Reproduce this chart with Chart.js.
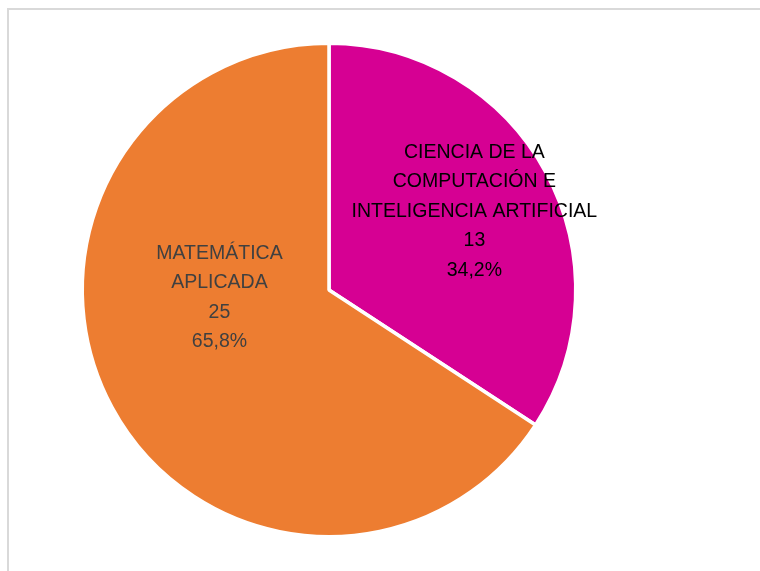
<!DOCTYPE html>
<html>
<head>
<meta charset="utf-8">
<script src="https://cdn.jsdelivr.net/npm/chart.js@4/dist/chart.umd.min.js"></script>
<style>
  html, body { margin: 0; padding: 0; background: #fff; overflow: hidden; }
  #wrap { position: relative; width: 760px; height: 571px; }
  #frame { position: absolute; left: 7px; top: 8px; width: 800px; height: 600px; border: 2px solid #d9d9d9; box-sizing: border-box; }
  canvas { position: absolute; left: 0; top: 0; }
</style>
</head>
<body>
<div id="wrap">
  <div id="frame"></div>
  <canvas id="pie" width="760" height="571"></canvas>
</div>
<script>
// datos
const categories = [
  ["CIENCIA DE LA", "COMPUTACIÓN E", "INTELIGENCIA ARTIFICIAL"],
  ["MATEMÁTICA", "APLICADA"]
];
const values = [13, 25];
const sliceColors = ["#d60093", "#ed7d31"];
const labelColors = ["#000000", "#404040"];

// posicion de etiquetas (fraccion del radio y giro en grados)
const labelRadius = [0.67, 0.445];
const labelTurn = [0, 24.4];

function formatPercent(v, total) {
  return (v / total * 100).toFixed(1).replace(".", ",") + "%";
}

const sliceLabels = {
  id: "sliceLabels",
  afterDatasetsDraw(chart) {
    const ctx = chart.ctx;
    const meta = chart.getDatasetMeta(0);
    const total = values.reduce((a, b) => a + b, 0);
    ctx.save();
    ctx.font = "19.5px 'Liberation Sans', Arial, sans-serif";
    ctx.textAlign = "center";
    ctx.textBaseline = "middle";
    meta.data.forEach((arc, i) => {
      const p = arc.getProps(["x", "y", "startAngle", "endAngle", "outerRadius"], true);
      const mid = (p.startAngle + p.endAngle) / 2 + labelTurn[i] * Math.PI / 180;
      const r = p.outerRadius * labelRadius[i];
      const cx = p.x + Math.cos(mid) * r;
      const cy = p.y + Math.sin(mid) * r;
      const lines = categories[i].concat([String(values[i]), formatPercent(values[i], total)]);
      const lh = 29.5;
      const y0 = cy - (lines.length - 1) * lh / 2;
      ctx.fillStyle = labelColors[i];
      lines.forEach((t, k) => ctx.fillText(t, cx, y0 + k * lh));
    });
    ctx.restore();
  }
};

new Chart(document.getElementById("pie"), {
  type: "pie",
  data: {
    labels: categories,
    datasets: [{
      data: values,
      backgroundColor: sliceColors,
      borderColor: "#ffffff",
      borderWidth: 3.5
    }]
  },
  options: {
    responsive: false,
    animation: false,
    layout: { padding: { left: 80.5, top: 41.5, right: 182.5, bottom: 32.5 } },
    plugins: {
      legend: { display: false },
      tooltip: { enabled: false }
    }
  },
  plugins: [sliceLabels]
});
</script>
</body>
</html>
